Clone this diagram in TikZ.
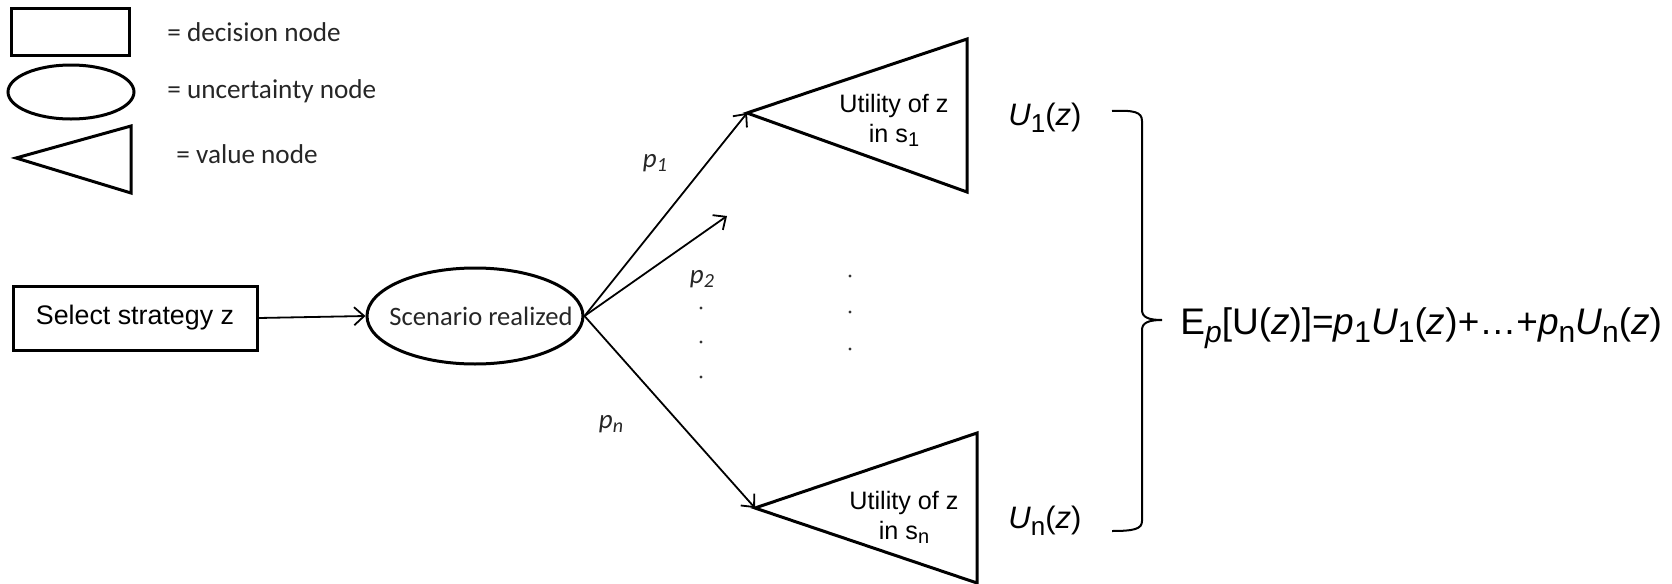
\documentclass[tikz,border=0pt]{standalone}
\usepackage{fontspec}
\usepackage{graphicx}
\setmainfont{Liberation Sans}
\newfontfamily\calib{Carlito}
\usetikzlibrary{arrows.meta,shapes.geometric}
% \lowsub{lower}{size}{text}
\newcommand\lowsub[3]{\raisebox{-#1}{\fontsize{#2}{#2}\selectfont #3}}
\begin{document}
\begin{tikzpicture}[x=0.5pt,y=-0.5pt,
  shapeline/.style={line width=1.5pt},
  conn/.style={line width=0.9pt,-{Straight Barb[length=5pt,width=9pt]}},
  legtext/.style={anchor=west,inner sep=0pt,font=\calib\fontsize{13.6}{16}\selectfont,text=black!85},
  plabel/.style={inner sep=0pt,font=\calib\itshape\fontsize{13.5}{16}\selectfont,text=black!85},
  utext/.style={inner sep=0pt,align=center,font=\fontsize{12.6}{15}\selectfont},
  ulabel/.style={anchor=base west,inner sep=0pt,font=\fontsize{15.5}{18}\selectfont},
  dotnode/.style={circle,fill=black!80,inner sep=0pt,minimum size=1.6pt}
]
\useasboundingbox (0,0) rectangle (1672,584);

% legend
\node[draw,shapeline,rectangle,minimum width=59pt,minimum height=23.5pt,inner sep=0pt] (legrect) at (70,31.5) {};
\node[draw,shapeline,ellipse,minimum width=63pt,minimum height=27pt,inner sep=0pt] (legell) at (71,92) {};
\coordinate (legtip) at (16,158);
\draw[shapeline,line join=miter] (legtip) -- (131,126) -- (131,193) -- cycle;
\node[legtext] (leg1) at (167,32) {= decision node};
\node[legtext] (leg2) at (167,91) {= uncertainty node};
\node[legtext] (leg3) at (176,154) {= value node};

% main nodes
\node[draw,shapeline,rectangle,minimum width=122pt,minimum height=32pt,inner sep=0pt] (sel) at (135,318) {};
\node[inner sep=0pt,font=\fontsize{13.4}{16}\selectfont] (seltext) at (sel.center) {Select strategy z};
\node[draw,shapeline,ellipse,minimum width=108pt,minimum height=48pt,inner sep=0pt] (ell) at (475,316) {};
\node[inner sep=0pt,font=\calib\fontsize{13.3}{16}\selectfont,text=black!85] (elltext) at ([xshift=3pt]ell.center) {Scenario realized};

% value triangles
\coordinate (t1tip) at (747,113);
\draw[shapeline,line join=miter] (t1tip) -- (967,39) -- (967,192) -- cycle;
\node[utext] (t1text) at (894,120) {Utility of z\\in s\lowsub{2pt}{10}{1}};
\coordinate (t2tip) at (755,508);
\draw[shapeline,line join=miter] (t2tip) -- (977,433) -- (977,583) -- cycle;
\node[utext] (t2text) at (904,517) {Utility of z\\in s\lowsub{2pt}{10}{n}};

% connectors
\coordinate (mid) at (727,216);
\draw[conn] (sel.east) -- (ell.west);
\draw[conn] (ell.east) -- (t1tip);
\draw[conn] (ell.east) -- (mid);
\draw[conn] (ell.east) -- (t2tip);

% probability labels
\node[plabel] (p1) at (655,163) {p\lowsub{2pt}{10}{1}};
\node[plabel] (p2) at (702,279) {p\lowsub{2pt}{10}{2}};
\node[plabel] (pn) at (611,424) {p\lowsub{2pt}{10}{n}};

% dots
\node[dotnode] (d1) at (701,308) {};
\node[dotnode] (d2) at (701,342) {};
\node[dotnode] (d3) at (701,377) {};
\node[dotnode] (d4) at (850,276) {};
\node[dotnode] (d5) at (850,312) {};
\node[dotnode] (d6) at (850,349) {};

% utility labels
\node[ulabel] (u1) at (1008,125) {\textit{U}\lowsub{3.5pt}{13}{1}(\textit{z})};
\node[ulabel] (un) at (1008,528) {\textit{U}\lowsub{3.5pt}{13}{n}(\textit{z})};

% bracket
\draw[line width=1pt] (1112,111) .. controls (1134,110) and (1142,112) .. (1142,121)
  -- (1142,310) .. controls (1142,317) and (1148,320) .. (1162,320)
  .. controls (1148,320) and (1142,323) .. (1142,330)
  -- (1142,521) .. controls (1142,529) and (1134,531) .. (1112,531);

% formula
\node[anchor=base west,inner sep=0pt,font=\fontsize{18.5}{22}\selectfont] (form) at (1180,334)
  {E\lowsub{4pt}{15}{\itshape p}[U(\textit{z})]=\textit{p}\lowsub{4pt}{15}{1}\textit{U}\lowsub{4pt}{15}{1}(\textit{z})+…+\textit{p}\lowsub{4pt}{15}{n}\textit{U}\lowsub{4pt}{15}{n}(\textit{z})};
\end{tikzpicture}
\end{document}
